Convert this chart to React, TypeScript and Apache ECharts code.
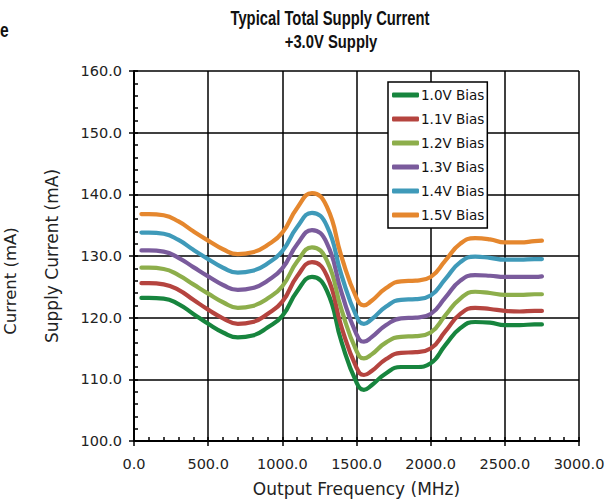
import React, { useEffect, useRef } from "react";
import * as echarts from "echarts";

const frequencies = [50, 100, 200, 300, 400, 500, 600, 700, 800, 900, 1000, 1100, 1200, 1300, 1400, 1500, 1550, 1600, 1700, 1800, 1900, 2000, 2100, 2200, 2300, 2400, 2500, 2600, 2700, 2750];

const bias10 = [123.2, 123.2, 123.1, 122.2, 120.6, 119.0, 117.6, 116.8, 117.1, 118.4, 120.3, 124.3, 126.6, 124.4, 116.0, 109.5, 108.3, 109.0, 111.0, 112.0, 112.0, 112.6, 115.6, 118.3, 119.3, 119.2, 118.8, 118.8, 118.9, 118.9];
const bias11 = [125.6, 125.6, 125.4, 124.5, 122.9, 121.3, 119.9, 119.0, 119.3, 120.6, 122.6, 126.7, 129.0, 126.8, 118.4, 111.9, 110.7, 111.3, 113.3, 114.3, 114.4, 115.0, 117.8, 120.6, 121.6, 121.4, 121.1, 121.0, 121.1, 121.1];
const bias12 = [128.1, 128.1, 127.9, 126.9, 125.4, 123.9, 122.5, 121.6, 121.9, 123.1, 125.1, 129.1, 131.4, 129.3, 121.2, 114.6, 113.4, 114.0, 116.0, 116.9, 117.0, 117.6, 120.4, 123.1, 124.2, 124.0, 123.7, 123.7, 123.8, 123.8];
const bias13 = [130.9, 130.9, 130.7, 129.7, 128.2, 126.7, 125.3, 124.5, 124.8, 126.0, 128.0, 131.9, 134.2, 132.1, 124.0, 117.3, 116.1, 116.8, 118.8, 119.9, 120.0, 120.6, 123.3, 126.0, 126.9, 126.8, 126.6, 126.6, 126.6, 126.7];
const bias14 = [133.8, 133.8, 133.6, 132.6, 131.0, 129.5, 128.1, 127.3, 127.6, 128.8, 130.8, 134.7, 137.0, 134.9, 126.8, 120.2, 119.0, 119.7, 121.8, 122.9, 123.0, 123.6, 126.3, 129.0, 129.9, 129.7, 129.4, 129.4, 129.5, 129.5];
const bias15 = [136.8, 136.8, 136.6, 135.6, 134.0, 132.5, 131.1, 130.3, 130.6, 131.8, 133.8, 137.8, 140.2, 138.0, 129.8, 123.2, 122.0, 122.7, 124.8, 125.9, 126.0, 126.6, 129.3, 132.0, 132.9, 132.7, 132.2, 132.2, 132.4, 132.5];

const seriesNames = ["1.0V Bias", "1.1V Bias", "1.2V Bias", "1.3V Bias", "1.4V Bias", "1.5V Bias"];
const seriesValues = [bias10, bias11, bias12, bias13, bias14, bias15];
const seriesColors = ["#17853e", "#b5443f", "#8dae4b", "#7a5b9c", "#3f9ab9", "#e5872e"];

const titleText = "Typical Total Supply Current";
const subtitleText = "+3.0V Supply";
const xAxisName = "Output Frequency (MHz)";
const yAxisName = "Supply Current (mA)";

const FONT = "'DejaVu Sans', sans-serif";
const TITLE_FONT = "'Liberation Sans', Arial, sans-serif";

export default function App() {
  const ref = useRef<HTMLDivElement>(null);
  useEffect(() => {
    document.body.style.margin = "0";
    const chart = echarts.init(ref.current!, null, { renderer: "svg" });
    const fmt = (v: number) => v.toFixed(1);
    const commonX = { type: "value" as const, min: 0, max: 3000, interval: 500, position: "bottom" as const };
    const commonY = { type: "value" as const, min: 100, max: 160, interval: 10, position: "left" as const };
    chart.setOption({
      animation: false,
      backgroundColor: "#ffffff",
      grid: { left: 134, right: 37, top: 71, bottom: 60, containLabel: false, outerBoundsMode: "none" },
      legend: {
        orient: "vertical",
        left: 388,
        top: 82,
        backgroundColor: "#ffffff",
        borderColor: "#000000",
        borderWidth: 1.5,
        padding: [5, 3, 5, 4],
        itemGap: 8,
        itemWidth: 27,
        itemHeight: 5,
        icon: "roundRect",
        textStyle: { fontFamily: FONT, fontSize: 13.5, color: "#111111", lineHeight: 16, padding: [0, 0, 0, -3] },
        data: seriesNames,
      },
      graphic: [
        { type: "text", x: 330, y: 18, scaleX: 0.74, style: { text: titleText, fontFamily: TITLE_FONT, fontWeight: "bold", fontSize: 20, fill: "#111111", textAlign: "center", textVerticalAlign: "middle" } },
        { type: "text", x: 331, y: 42, scaleX: 0.78, style: { text: subtitleText, fontFamily: TITLE_FONT, fontWeight: "bold", fontSize: 19, fill: "#111111", textAlign: "center", textVerticalAlign: "middle" } },
        { type: "text", x: 0, y: 30, scaleX: 0.78, style: { text: "e", fontFamily: TITLE_FONT, fontWeight: "bold", fontSize: 20, fill: "#111111", textVerticalAlign: "middle" } },
        { type: "text", x: 10, y: 281, rotation: Math.PI / 2, style: { text: "Current (mA)", fontFamily: FONT, fontSize: 16.5, fill: "#222222", textAlign: "center", textVerticalAlign: "middle" } },
      ],
      xAxis: [
        {
          ...commonX,
          name: xAxisName,
          nameLocation: "middle",
          nameGap: 39,
          nameTextStyle: { fontFamily: FONT, fontSize: 17, color: "#222222" },
          axisLine: { show: true, lineStyle: { color: "#000000", width: 2 } },
          axisTick: { show: true, inside: true, length: 4, lineStyle: { color: "#000000", width: 1.5 } },
          minorTick: { show: true, splitNumber: 5, length: 4, lineStyle: { color: "#000000", width: 1.5 } },
          axisLabel: { formatter: fmt, fontFamily: FONT, fontSize: 14.5, color: "#222222", margin: 15 },
          splitLine: { show: true, lineStyle: { color: "#000000", width: 1.5 } },
        },
        {
          ...commonX,
          axisLine: { show: false },
          axisTick: { show: true, inside: false, length: 5, lineStyle: { color: "#000000", width: 1.5 } },
          axisLabel: { show: false },
          splitLine: { show: false },
        },
      ],
      yAxis: [
        {
          ...commonY,
          name: yAxisName,
          nameLocation: "middle",
          nameGap: 74,
          nameTextStyle: { fontFamily: FONT, fontSize: 17, color: "#222222" },
          axisLine: { show: true, lineStyle: { color: "#000000", width: 2 } },
          axisTick: { show: true, inside: true, length: 4, lineStyle: { color: "#000000", width: 1.5 } },
          minorTick: { show: true, splitNumber: 5, length: 4, lineStyle: { color: "#000000", width: 1.5 } },
          axisLabel: { formatter: fmt, fontFamily: FONT, fontSize: 14.5, color: "#222222", margin: 12 },
          splitLine: { show: true, lineStyle: { color: "#000000", width: 1.5 } },
        },
        {
          ...commonY,
          axisLine: { show: false },
          axisTick: { show: true, inside: false, length: 5, lineStyle: { color: "#000000", width: 1.5 } },
          axisLabel: { show: false },
          splitLine: { show: false },
        },
      ],
      series: seriesNames.map((name, si) => ({
        name,
        type: "line",
        xAxisIndex: 0,
        yAxisIndex: 0,
        smooth: 0.5,
        showSymbol: false,
        symbol: "none",
        color: seriesColors[si],
        lineStyle: { color: seriesColors[si], width: 4.2, cap: "round", join: "round" },
        data: frequencies.map((f, i) => [f, seriesValues[si][i]]),
      })),
    });
    return () => chart.dispose();
  }, []);
  return <div ref={ref} style={{ position: "absolute", left: 0, top: 0, width: 616, height: 501 }} />;
}
